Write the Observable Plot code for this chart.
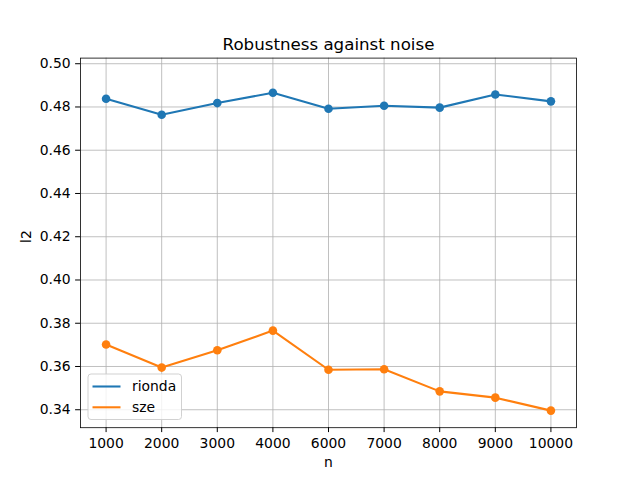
<!DOCTYPE html>
<html>
<head>
<meta charset="utf-8">
<script src="https://cdn.jsdelivr.net/npm/d3@7"></script>
<script src="https://cdn.jsdelivr.net/npm/@observablehq/plot@0.6"></script>
<style>
  html, body { margin: 0; padding: 0; background: #fff; }
  svg { display: block; }
</style>
</head>
<body>
<div id="chart"></div>
<script>
// Sample sizes (categorical x axis)
const nValues = ["1000", "2000", "3000", "4000", "6000", "7000", "8000", "9000", "10000"];
// l2 error per method
const rionda = [0.4838, 0.4764, 0.4818, 0.4866, 0.4792, 0.4806, 0.4797, 0.4858, 0.4826];
const sze = [0.3702, 0.3595, 0.3675, 0.3766, 0.3585, 0.3587, 0.3485, 0.3456, 0.3396];
const yTicks = [0.34, 0.36, 0.38, 0.40, 0.42, 0.44, 0.46, 0.48, 0.50];
const seriesNames = ["rionda", "sze"];
const seriesColors = ["#1f77b4", "#ff7f0e"];

const rows = [
  ...nValues.map((n, i) => ({n, l2: rionda[i], method: "rionda"})),
  ...nValues.map((n, i) => ({n, l2: sze[i], method: "sze"}))
];

const font = "DejaVu Sans, sans-serif";

const chart = Plot.plot({
  width: 640,
  height: 480,
  marginLeft: 80,
  marginRight: 64,
  marginTop: 57.6,
  marginBottom: 52.8,
  style: {fontFamily: font, fontSize: "13.9px", color: "#000", background: "#fff"},
  x: {type: "point", domain: nValues, padding: 0.46, round: false, label: null},
  y: {domain: [0.3317, 0.5026], label: null},
  color: {domain: seriesNames, range: seriesColors},
  marks: [
    Plot.ruleX(nValues, {x: d => d, stroke: "#b0b0b0", strokeWidth: 0.8}),
    Plot.ruleY(yTicks, {y: d => d, stroke: "#b0b0b0", strokeWidth: 0.8}),
    Plot.line(rows, {x: "n", y: "l2", z: "method", stroke: "method", strokeWidth: 2.08}),
    Plot.dot(rows, {x: "n", y: "l2", fill: "method", r: 4.3, stroke: null}),
    Plot.frame({stroke: "#000", strokeWidth: 0.8}),
    Plot.axisX({ticks: nValues, tickSize: 4.9, tickPadding: 6, label: null, fontSize: "13.9px"}),
    Plot.axisY({ticks: yTicks, tickSize: 4.9, tickPadding: 5, tickFormat: d3.format(".2f"), label: null, fontSize: "13.9px"}),
    Plot.text(["Robustness against noise"], {frameAnchor: "top", lineAnchor: "middle", dy: -13.6, fontSize: "16.67px", fill: "#000"}),
    Plot.text(["n"], {frameAnchor: "bottom", lineAnchor: "middle", dy: 35, fontSize: "13.9px", fill: "#000"}),
    Plot.text(["l2"], {frameAnchor: "left", lineAnchor: "middle", dx: -54, rotate: -90, fontSize: "13.9px", fill: "#000"})
  ]
});

document.getElementById("chart").appendChild(chart);

// Legend box in the lower-left corner of the plot area
const svg = d3.select(chart);
const lg = svg.append("g")
  .attr("font-family", font)
  .attr("font-size", "13.9px")
  .attr("text-anchor", "start");
lg.append("rect")
  .attr("x", 88).attr("y", 374).attr("width", 93.5).attr("height", 45.5)
  .attr("rx", 3).attr("fill", "#fff").attr("fill-opacity", 0.8)
  .attr("stroke", "#cccccc").attr("stroke-width", 0.9);
seriesNames.forEach((name, i) => {
  const y = 386.5 + i * 20.8;
  lg.append("line")
    .attr("x1", 92.5).attr("x2", 120.5).attr("y1", y).attr("y2", y)
    .attr("stroke", seriesColors[i]).attr("stroke-width", 2.08);
  lg.append("text")
    .attr("x", 132).attr("y", y).attr("dy", "0.35em")
    .attr("text-anchor", "start")
    .attr("fill", "#000").text(name);
});
</script>
</body>
</html>
